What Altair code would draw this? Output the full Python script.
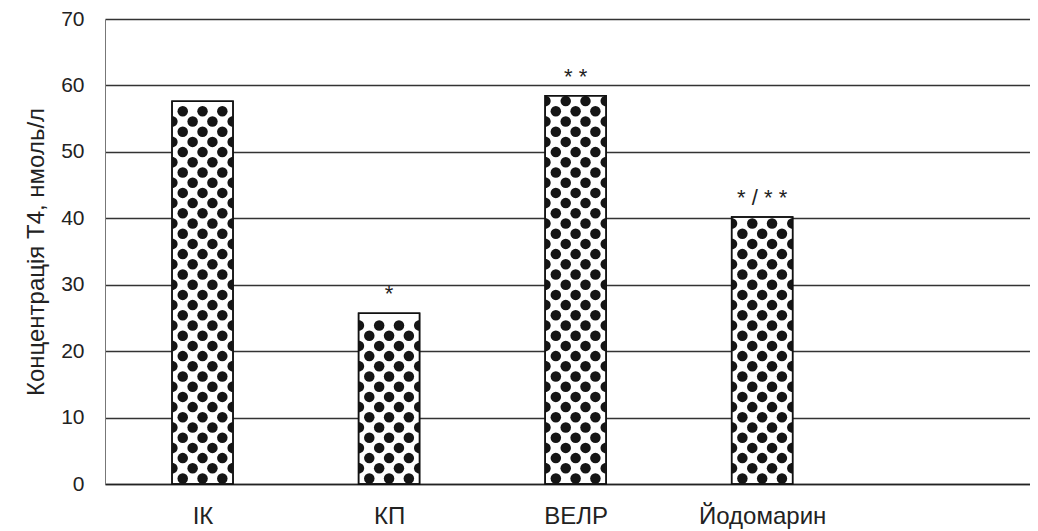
import altair as alt
import pandas as pd

# ---- data ----
categories = ["ІК", "КП", "ВЕЛР", "Йодомарин"]
positions = [1, 2, 3, 4]
values = [57.6, 25.7, 58.45, 40.2]
marks_text = ["", "*", "* *", "* / * *"]

# ---- layout / style ----
W, H = 925, 465
X_DOMAIN = [0.504, 5.409]
Y_DOMAIN = [0, 70]
BAR_PX = 61
DOT_D = 10.5
ROW_STEP = 10.2
FONT = "Liberation Sans"

bars = pd.DataFrame({"pos": positions, "name": categories, "value": values, "note": marks_text})

# dot texture inside each bar (decorative fill pattern)
px_x = W / (X_DOMAIN[1] - X_DOMAIN[0])
px_y = H / (Y_DOMAIN[1] - Y_DOMAIN[0])
rows = []
half = BAR_PX / 2
for p, v in zip(positions, values):
    h = v * px_y
    j = 0
    while True:
        yc = 5.5 + j * ROW_STEP
        if yc + DOT_D / 2 > h:
            break
        if j % 2 == 0:
            offs = [(-20, "full"), (0, "full"), (20, "full")]
        else:
            offs = [(-half, "rhalf"), (-10, "full"), (10, "full"), (half, "lhalf")]
        for dx, shp in offs:
            rows.append({"x": p + dx / px_x, "y": yc / px_y, "shape": shp})
        j += 1
dots = pd.DataFrame(rows)

label_expr = "[" + ",".join("'" + c + "'" for c in categories) + "][datum.value - 1]"

x_scale = alt.Scale(domain=X_DOMAIN, nice=False, zero=False)
y_scale = alt.Scale(domain=Y_DOMAIN, nice=False)

x_enc = alt.X(
    "pos:Q",
    scale=x_scale,
    axis=alt.Axis(
        values=positions,
        labelExpr=label_expr,
        title=None,
        grid=False,
        ticks=False,
        domain=True,
        domainColor="#222222",
        domainWidth=1.5,
        labelFontSize=24,
        labelColor="#222222",
        labelPadding=20,
        labelFlush=False,
        labelOverlap=False,
        labelFont=FONT,
    ),
)
y_enc = alt.Y(
    "value:Q",
    scale=y_scale,
    axis=alt.Axis(
        values=[0, 10, 20, 30, 40, 50, 60, 70],
        title="Концентрація Т4, нмоль/л",
        titleFontSize=24,
        titleFontWeight="normal",
        titleColor="#222222",
        titleFont=FONT,
        titlePadding=12,
        grid=True,
        gridColor="#333333",
        gridWidth=1.3,
        ticks=False,
        domain=True,
        domainColor="#777777",
        domainWidth=1,
        labelFontSize=21,
        labelColor="#222222",
        labelPadding=21,
        labelFont=FONT,
    ),
)

base_bar = alt.Chart(bars).mark_bar(
    size=BAR_PX, fill="white", stroke="#111111", strokeWidth=1.5
).encode(x=x_enc, y=y_enc)

dot_layer = alt.Chart(dots).mark_point(
    filled=True, size=DOT_D * DOT_D, opacity=1, color="#151515", strokeWidth=0
).encode(
    x=alt.X("x:Q", scale=x_scale),
    y=alt.Y("y:Q", scale=y_scale),
    shape=alt.Shape(
        "shape:N",
        scale=alt.Scale(
            domain=["full", "rhalf", "lhalf"],
            range=["circle", "M0,-1A1,1,0,0,1,0,1Z", "M0,-1A1,1,0,0,0,0,1Z"],
        ),
        legend=None,
    ),
)

outline = alt.Chart(bars).mark_bar(
    size=BAR_PX, fillOpacity=0, stroke="#111111", strokeWidth=1.5
).encode(x=alt.X("pos:Q", scale=x_scale), y=alt.Y("value:Q", scale=y_scale))

notes = alt.Chart(bars).mark_text(
    fontSize=22, font=FONT, color="#222222", baseline="alphabetic", dy=-12
).encode(
    x=alt.X("pos:Q", scale=x_scale),
    y=alt.Y("value:Q", scale=y_scale),
    text="note:N",
)

chart = (
    alt.layer(base_bar, dot_layer, outline, notes)
    .properties(
        width=W,
        height=H,
        autosize=alt.AutoSizeParams(type="none"),
        padding={"left": 97, "top": 11, "right": 0, "bottom": 47},
        background="white",
    )
    .configure_view(stroke=None)
)

chart.save("out.html", embed_options={"renderer": "svg", "actions": False})
